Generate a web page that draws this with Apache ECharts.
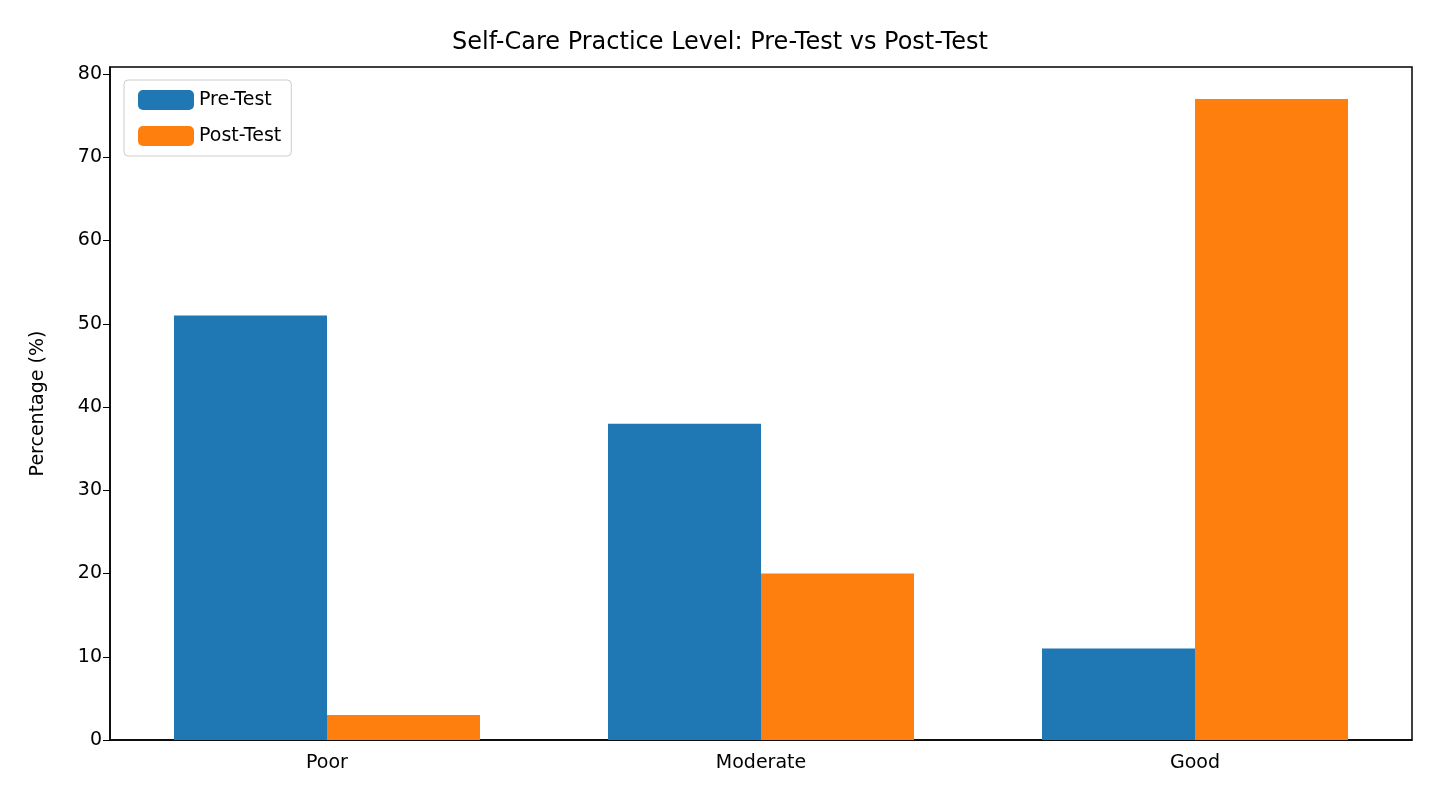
<!DOCTYPE html>
<html><head><meta charset="utf-8">
<script src="https://cdn.jsdelivr.net/npm/echarts@6/dist/echarts.min.js"></script>
<style>html,body{margin:0;padding:0;background:#fff}#c{width:1440px;height:810px}</style>
</head><body><div id="c"></div>
<script>
var categories = ['Poor', 'Moderate', 'Good'];
var preTest = [51, 38, 11];
var postTest = [3, 20, 77];
var yTicks = [0, 10, 20, 30, 40, 50, 60, 70, 80];

var chart = echarts.init(document.getElementById('c'));
var font = 'DejaVu Sans';
chart.setOption({
  animation: false,
  textStyle: { fontFamily: font },
  title: { text: 'Self-Care Practice Level: Pre-Test vs Post-Test', left: 'center', top: 26,
    textStyle: { fontFamily: font, fontSize: 24, fontWeight: 'normal', color: '#000' } },
  legend: {
    left: 124, top: 80, orient: 'vertical', itemWidth: 56, itemHeight: 20, itemGap: 16,
    padding: [10, 10, 10, 14], borderColor: '#ccc', borderWidth: 1, borderRadius: 4,
    textStyle: { fontSize: 19, color: '#000' },
    data: ['Pre-Test', 'Post-Test']
  },
  grid: { left: 110, right: 28, top: 67, bottom: 70 },
  xAxis: {
    type: 'category', data: categories,
    axisLine: { lineStyle: { color: '#000', width: 1.5 } },
    axisTick: { alignWithLabel: true, length: 7, lineStyle: { color: '#000' } },
    axisLabel: { fontSize: 19, color: '#000', margin: 14 }
  },
  yAxis: {
    type: 'value', min: 0, max: 80.85, interval: 10,
    name: 'Percentage (%)', nameLocation: 'middle', nameGap: 62,
    nameTextStyle: { fontSize: 19, color: '#000' },
    splitLine: { show: false },
    axisLine: { show: true, lineStyle: { color: '#000', width: 1.5 } },
    axisTick: { show: true, length: 7, lineStyle: { color: '#000' } },
    axisLabel: { fontSize: 19, color: '#000', showMaxLabel: false,
      formatter: function (v) { return yTicks.indexOf(v) >= 0 ? v : ''; } }
  },
  series: [
    { name: 'Pre-Test', type: 'bar', data: preTest, barWidth: 153, barGap: '0%', itemStyle: { color: '#1f77b4' } },
    { name: 'Post-Test', type: 'bar', data: postTest, barWidth: 153, itemStyle: { color: '#ff7f0e' } }
  ],
  graphic: [{ type: 'rect', shape: { x: 110, y: 67, width: 1302, height: 673 },
    style: { fill: 'none', stroke: '#000', lineWidth: 1.5 }, silent: true }]
});
</script></body></html>
